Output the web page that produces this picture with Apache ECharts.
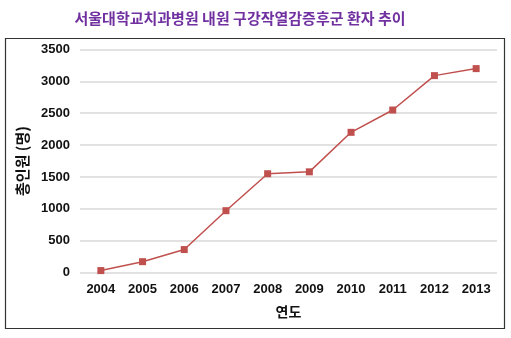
<!DOCTYPE html>
<html><head><meta charset="utf-8">
<script src="https://cdn.jsdelivr.net/npm/echarts@6/dist/echarts.min.js"></script>
<style>html,body{margin:0;padding:0;background:#fff}#c{width:511px;height:338px}</style>
</head><body><div id="c"></div>
<script>
const titleText = '서울대학교치과병원 내원 구강작열감증후군 환자 추이';
const years = ['2004','2005','2006','2007','2008','2009','2010','2011','2012','2013'];
const patients = [30, 170, 360, 970, 1550, 1580, 2200, 2550, 3090, 3200];
const yAxisName = '총인원 (명)';
const xAxisName = '연도';

const chart = echarts.init(document.getElementById('c'), null, {renderer:'canvas'});
chart.setOption({
  animation:false,
  backgroundColor:'#fff',
  title:{text:titleText,left:235,textAlign:'center',top:6,
    textStyle:{color:'#7030A0',fontSize:15,fontWeight:'bold',fontFamily:'Noto Sans CJK KR'}},
  graphic:[{type:'rect',shape:{x:5.5,y:38.5,width:499,height:290},
    style:{fill:'none',stroke:'#333',lineWidth:1.2},z:-1}],
  grid:{left:80,right:14,top:49.5,bottom:65.5},
  xAxis:{type:'category',data:years,boundaryGap:true,
    axisLine:{show:false},axisTick:{show:false},
    axisLabel:{color:'#111',fontSize:13,fontWeight:'bold',fontFamily:'Liberation Sans',margin:10},
    name:xAxisName,nameLocation:'middle',nameGap:32,
    nameTextStyle:{color:'#111',fontSize:14,fontWeight:'bold',fontFamily:'Noto Sans CJK KR'}},
  yAxis:{type:'value',min:0,max:3500,interval:500,
    axisLine:{show:false},axisTick:{show:false},
    splitLine:{lineStyle:{color:'#d9d9d9',width:1.5}},
    axisLabel:{color:'#111',fontSize:13,fontWeight:'bold',fontFamily:'Liberation Sans',margin:10,
      formatter:function(v){return String(v);}},
    name:yAxisName,nameLocation:'middle',nameGap:50,nameRotate:90,
    nameTextStyle:{color:'#111',fontSize:15,fontWeight:'bold',fontFamily:'Noto Sans CJK KR'}},
  series:[{type:'line',data:patients,symbol:'rect',symbolSize:7,
    lineStyle:{color:'#c0504d',width:1.5},itemStyle:{color:'#c0504d'}}]
});
</script></body></html>
